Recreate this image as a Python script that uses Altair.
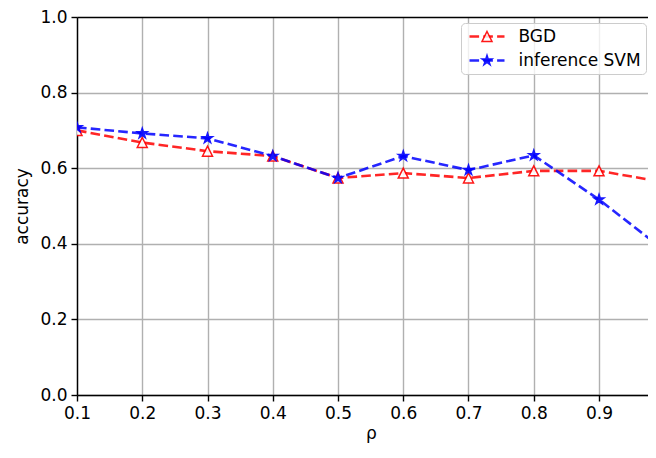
import altair as alt
import pandas as pd

rho = [0.1, 0.2, 0.3, 0.4, 0.5, 0.6, 0.7, 0.8, 0.9, 1.0]
bgd = [0.700, 0.668, 0.645, 0.632, 0.574, 0.587, 0.574, 0.593, 0.593, 0.563]
svm = [0.708, 0.692, 0.679, 0.632, 0.574, 0.632, 0.595, 0.634, 0.517, 0.383]
series_names = ["BGD", "inference SVM"]
x_ticks = [0.1, 0.2, 0.3, 0.4, 0.5, 0.6, 0.7, 0.8, 0.9]
y_ticks = [0.0, 0.2, 0.4, 0.6, 0.8, 1.0]

rows = []
for name, vals in zip(series_names, [bgd, svm]):
    for r, v in zip(rho, vals):
        rows.append({"rho": r, "acc": v, "series": name, "series2": name})
df = pd.DataFrame(rows)

FONT = "DejaVu Sans"
FS = 17
RED = "#ff0000"
BLUE = "#0000ff"
LW = 2.6
DASH = [9.6, 4.2]
TRI = "M0,-1L1,1L-1,1Z"
k = 1.05
STAR = ("M0,{a}L{b},{c}L{d},{c}L{e},{f}L{g},{h}L0,{i}L-{g},{h}L-{e},{f}L-{d},{c}L-{b},{c}Z"
        .format(a=-1 * k, b=0.225 * k, c=-0.309 * k, d=0.951 * k, e=0.363 * k,
                f=0.118 * k, g=0.588 * k, h=0.809 * k, i=0.382 * k))
LEG_LINE = "M-3.5,0L3.5,0"
LEG_X, LEG_Y = 384, 6

W = 571
H = 378
x_max = 0.1 + W / 652.5

x_enc = alt.X("rho:Q",
              scale=alt.Scale(domain=[0.1, x_max], nice=False, zero=False),
              axis=alt.Axis(values=x_ticks, format=".1f", title="ρ", titleX=294))
y_enc = alt.Y("acc:Q",
              scale=alt.Scale(domain=[0, 1], nice=False),
              axis=alt.Axis(values=y_ticks, format=".1f", title="accuracy",
                            gridColor=alt.condition("datum.value == 1",
                                                    alt.value("black"),
                                                    alt.value("#b0b0b0"))))

common_leg = dict(title=None, orient="none", legendX=LEG_X, legendY=LEG_Y,
                  symbolSize=100, symbolOffset=12.5,
                  labelFont=FONT, labelFontSize=FS,
                  labelOffset=23, labelLimit=400, rowPadding=6, padding=5)

lines = alt.Chart(df).mark_line(
    strokeWidth=LW, strokeDash=DASH, opacity=0.85, clip=True
).encode(
    x=x_enc, y=y_enc,
    color=alt.Color("series:N",
                    scale=alt.Scale(domain=series_names, range=[RED, BLUE]),
                    legend=alt.Legend(
                        symbolType=LEG_LINE, symbolStrokeWidth=LW,
                        symbolDash=DASH, symbolOpacity=0.85, labelColor="black",
                        fillColor="rgba(255,255,255,0.8)",
                        strokeColor="#cccccc", cornerRadius=4, zindex=1,
                        **common_leg)),
    order="series:N",
)

pt_leg = alt.Legend(symbolStrokeWidth=1.5, labelColor="transparent", zindex=2,
                    **common_leg)

points = alt.Chart(df).mark_point(
    filled=True, size=100, strokeWidth=1.5, opacity=0.9, clip=True
).encode(
    x=x_enc, y=y_enc,
    fill=alt.Fill("series2:N", scale=alt.Scale(range=["white", BLUE]), legend=pt_leg),
    stroke=alt.Stroke("series2:N", scale=alt.Scale(range=[RED, BLUE]), legend=pt_leg),
    shape=alt.Shape("series2:N", scale=alt.Scale(range=[TRI, STAR]), legend=pt_leg),
)

chart = alt.layer(lines, points).properties(
    width=W, height=H,
    autosize=alt.AutoSizeParams(type="none"),
    padding={"left": 69, "top": 9, "right": 0, "bottom": 50},
).configure_view(
    stroke=None
).configure_axis(
    labelFont=FONT, labelFontSize=FS, labelColor="black",
    titleFont=FONT, titleFontSize=FS, titleFontWeight="normal", titleColor="black",
    domainColor="black", domainWidth=1.4,
    tickColor="black", tickWidth=1.4, tickSize=6,
    gridColor="#b0b0b0", gridWidth=1.4,
    labelPadding=4, labelFlush=False, labelOverlap=False,
).configure_axisX(
    titlePadding=4,
).configure_axisY(
    titlePadding=8,
)

chart.save("out.html", embed_options={"renderer": "svg", "actions": False})
